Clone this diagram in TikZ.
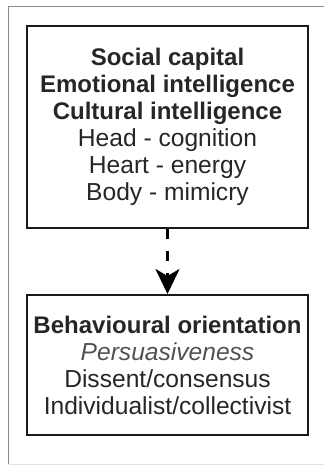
\documentclass[tikz,border=0pt]{standalone}
\usepackage{fontspec}
\setmainfont{Liberation Sans}
\usetikzlibrary{arrows.meta}
\definecolor{txt}{HTML}{262626}
\definecolor{frame}{HTML}{8A8A8A}
\newcommand{\hd}[1]{{\fontsize{24pt}{27pt}\selectfont\bfseries #1}}
\tikzset{
  box/.style={draw=black!90, line width=2pt, minimum width=281pt, align=center,
    text=txt, inner sep=0pt, font=\fontsize{24.6pt}{27pt}\selectfont},
  link/.style={line width=3pt, dash pattern=on 10pt off 12pt,
    -{Stealth[length=25pt, width=24pt, inset=7pt]}},
}
\begin{document}
\begin{tikzpicture}[x=1pt,y=1pt]
\useasboundingbox (0,0) rectangle (324,-466);
% outer frame
\draw[frame, line width=1.6pt] (324,-6.5) -- (8.5,-6.5) -- (8.5,-464);
\draw[black!12, line width=1pt] (8.5,-464) -- (324,-464);
% boxes
\node[box, minimum height=202pt] (top) at (167.5,-127) {%
  \hd{Social capital}\\
  \hd{Emotional intelligence}\\
  \hd{Cultural intelligence}\\
  Head - cognition\\
  Heart - energy\\
  Body - mimicry};
\node[box, minimum height=140pt] (bot) at (167.5,-365) {%
  \hd{Behavioural orientation}\\
  {\color{txt!80}\itshape Persuasiveness}\\
  Dissent/consensus\\
  Individualist/collectivist};
\draw[link] (top.south) -- (bot.north);
\end{tikzpicture}
\end{document}
